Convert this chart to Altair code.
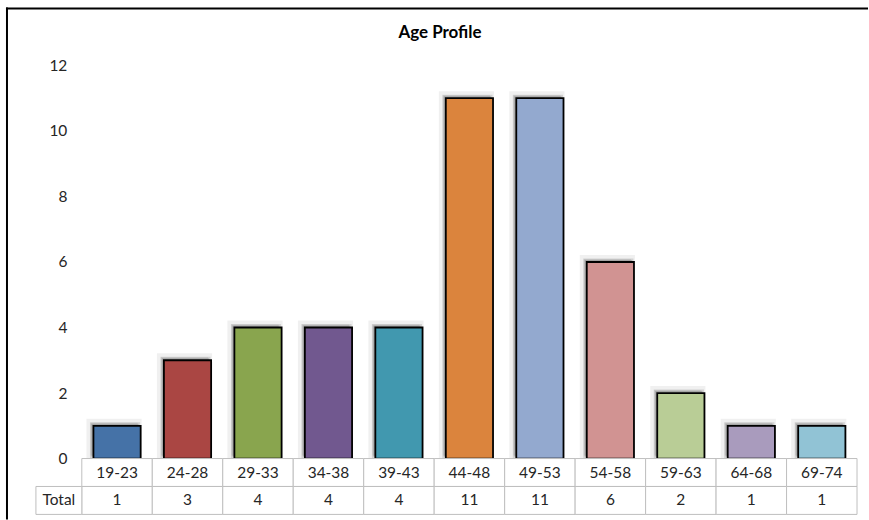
import altair as alt
import pandas as pd

# ---- data ----
categories = ["19-23", "24-28", "29-33", "34-38", "39-43", "44-48",
              "49-53", "54-58", "59-63", "64-68", "69-74"]
totals = [1, 3, 4, 4, 4, 11, 11, 6, 2, 1, 1]
row_names = ["Age", "Total"]
y_ticks = [0, 2, 4, 6, 8, 10, 12]
title_text = "Age Profile"

# ---- styles ----
colors = ["#4572A7", "#AA4643", "#89A54E", "#71588F", "#4198AF", "#DB843D",
          "#93A9CF", "#D19392", "#B9CD96", "#A99BBD", "#91C3D5"]
FONT = "Lato"
FS = 15.5
TXT = "#262626"
GRID = "#BFBFBF"
W = 777
H = 394
ROW_H = 28

bars_df = pd.DataFrame({"age": categories, "total": totals})

x_bar = alt.X("age:N", sort=categories,
              scale=alt.Scale(domain=categories, paddingInner=0.33, paddingOuter=0.165),
              axis=None)
y_bar = alt.Y("total:Q",
              scale=alt.Scale(domain=[0, 12], nice=False, zero=True),
              axis=alt.Axis(values=y_ticks, grid=False, domain=False, ticks=False,
                            labelPadding=15, labelFont=FONT, labelFontSize=FS,
                            labelColor=TXT, labelFlush=False, title=None))

base = alt.Chart(bars_df)
shadow_outer = base.mark_bar(fill="#000", fillOpacity=0.08, stroke="#000",
                             strokeOpacity=0.06, strokeWidth=8,
                             xOffset=-3, yOffset=-3, y2Offset=-4).encode(x=x_bar, y=y_bar)
shadow_inner = base.mark_bar(fill="#000", fillOpacity=0.15, stroke="#000",
                             strokeOpacity=0.12, strokeWidth=3,
                             xOffset=-2, yOffset=-2, y2Offset=-3).encode(x=x_bar, y=y_bar)
bars = base.mark_bar(stroke="black", strokeWidth=1.8).encode(
    x=x_bar, y=y_bar,
    color=alt.Color("age:N", sort=categories,
                    scale=alt.Scale(domain=categories, range=colors), legend=None),
)

frame_df = pd.DataFrame({"k": [0]})
left_line = alt.Chart(frame_df).mark_rule(color="black", strokeWidth=2).encode(
    x=alt.value(-75), y=alt.value(-58), y2=alt.value(455))
top_line = alt.Chart(frame_df).mark_rule(color="black", strokeWidth=2).encode(
    x=alt.value(-76), x2=alt.value(788), y=alt.value(-57))
title = alt.Chart(pd.DataFrame({"t": [title_text]})).mark_text(
    font=FONT, fontSize=17, fontWeight="bold", color="black", baseline="middle"
).encode(x=alt.value(359), y=alt.value(-33), text="t:N")

top = alt.layer(shadow_outer, shadow_inner, bars, left_line, top_line, title).properties(
    width=W, height=H)

# ---- data table below the bars ----
tbl_rows = []
for c, t in zip(categories, totals):
    tbl_rows.append({"age": c, "row": row_names[0], "label": c})
    tbl_rows.append({"age": c, "row": row_names[1], "label": str(t)})
tbl_df = pd.DataFrame(tbl_rows)

x_t = alt.X("age:N", sort=categories,
            scale=alt.Scale(domain=categories, paddingInner=0, paddingOuter=0), axis=None)
y_t = alt.Y("row:N", sort=row_names,
            scale=alt.Scale(domain=row_names, paddingInner=0, paddingOuter=0), axis=None)

cells = alt.Chart(tbl_df).mark_rect(fill="white", stroke=GRID, strokeWidth=1).encode(x=x_t, y=y_t)
cell_text = alt.Chart(tbl_df).mark_text(font=FONT, fontSize=FS, color=TXT,
                                        baseline="middle").encode(x=x_t, y=y_t, text="label:N")

hdr_df = pd.DataFrame({"row": [row_names[1]], "label": [row_names[1]]})
hdr_cell = alt.Chart(hdr_df).mark_rect(fill="white", stroke=GRID, strokeWidth=1).encode(
    x=alt.value(-46), x2=alt.value(0), y=y_t)
hdr_text = alt.Chart(hdr_df).mark_text(font=FONT, fontSize=FS, color=TXT,
                                       baseline="middle").encode(
    x=alt.value(-23), y=y_t, text="label:N")

bottom = alt.layer(cells, cell_text, hdr_cell, hdr_text).properties(width=W, height=2 * ROW_H)

chart = alt.vconcat(top, bottom, spacing=0, bounds="flush").configure_view(
    stroke=None
).properties(
    padding={"left": 5, "top": 6, "right": 0, "bottom": 0},
    background="white",
)

chart.save("out.html", embed_options={"renderer": "svg", "actions": False})
